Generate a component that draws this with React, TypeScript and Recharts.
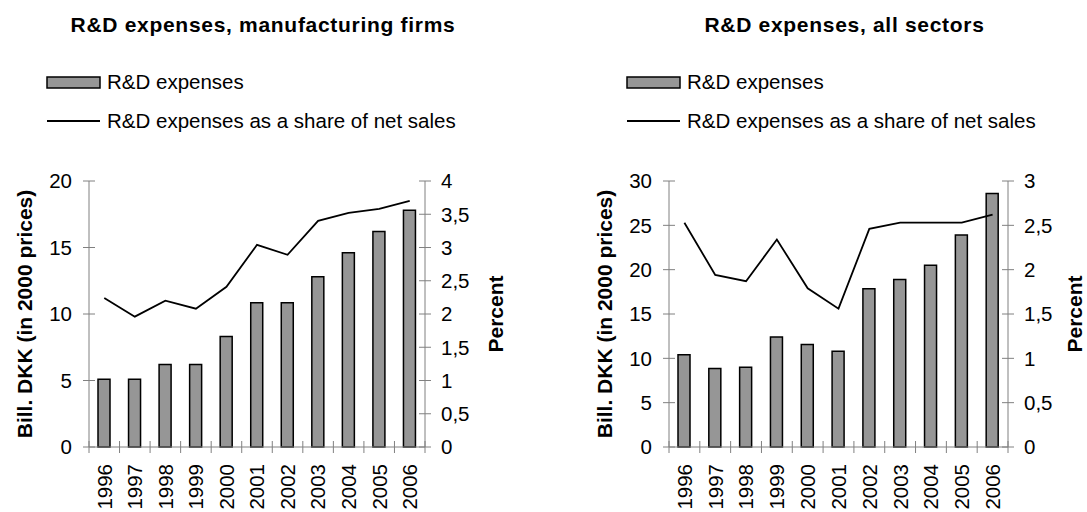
import React from 'react';
import { ComposedChart, Bar, Line, XAxis, YAxis } from 'recharts';

const years = ['1996', '1997', '1998', '1999', '2000', '2001', '2002', '2003', '2004', '2005', '2006'];

// manufacturing firms
const mfgExpenses = [5.1, 5.1, 6.2, 6.2, 8.3, 10.85, 10.85, 12.8, 14.6, 16.2, 17.8];
const mfgShare = [2.24, 1.96, 2.2, 2.08, 2.41, 3.04, 2.89, 3.4, 3.52, 3.58, 3.7];
const mfgLeftTicks = [0, 5, 10, 15, 20];
const mfgRightTicks = [0, 0.5, 1, 1.5, 2, 2.5, 3, 3.5, 4];

// all sectors
const allExpenses = [10.4, 8.85, 9.0, 12.4, 11.55, 10.8, 17.85, 18.9, 20.5, 23.9, 28.6];
const allShare = [2.53, 1.94, 1.87, 2.34, 1.79, 1.56, 2.46, 2.53, 2.53, 2.53, 2.62];
const allLeftTicks = [0, 5, 10, 15, 20, 25, 30];
const allRightTicks = [0, 0.5, 1, 1.5, 2, 2.5, 3];

const titles = ['R&D expenses, manufacturing firms', 'R&D expenses, all sectors'];
const legendBar = 'R&D expenses';
const legendLine = 'R&D expenses as a share of net sales';
const leftLabel = 'Bill. DKK (in 2000 prices)';
const rightLabel = 'Percent';

const FONT = '"Liberation Sans", Arial, sans-serif';
const AXIS = '#808080';
const BAR = '#969696';
const H = 512;
const TOP = 181;
const XH = 65;

const fmt = (v: number) => String(v).replace('.', ',');

interface PanelProps {
  left: number;
  width: number;
  leftW: number;
  rightW: number;
  pctOffset: number;
  expenses: number[];
  share: number[];
  leftTicks: number[];
  rightTicks: number[];
}

const Panel: React.FC<PanelProps> = ({ left, width, leftW, rightW, pctOffset, expenses, share, leftTicks, rightTicks }) => {
  const data = years.map((y, i) => ({ year: y, exp: expenses[i], share: share[i] }));
  const plotW = width - leftW - rightW;
  const step = plotW / years.length;

  const xTick = (p: any) => {
    const { x, y, index } = p;
    const ay = y - 17;
    return (
      <g>
        <line x1={x - step / 2} x2={x - step / 2} y1={ay - 6} y2={ay + 6} stroke={AXIS} strokeWidth={1} />
        {index === years.length - 1 && (
          <line x1={x + step / 2} x2={x + step / 2} y1={ay - 6} y2={ay + 6} stroke={AXIS} strokeWidth={1} />
        )}
        <text x={x} y={y} transform={`rotate(-90, ${x}, ${y})`} textAnchor="end" dy="0.36em"
          fontSize={20.5} fontFamily={FONT} fill="#000">{p.payload.value}</text>
      </g>
    );
  };

  const lTick = (p: any) => {
    const { x, y } = p;
    const ax = x + 17;
    return (
      <g>
        <line x1={ax - 6} x2={ax + 6} y1={y} y2={y} stroke={AXIS} strokeWidth={1} />
        <text x={x} y={y} textAnchor="end" dy="0.36em" fontSize={20.5} fontFamily={FONT} fill="#000">{fmt(p.payload.value)}</text>
      </g>
    );
  };

  const rTick = (p: any) => {
    const { x, y } = p;
    const ax = x - 16;
    return (
      <g>
        <line x1={ax - 6} x2={ax + 6} y1={y} y2={y} stroke={AXIS} strokeWidth={1} />
        <text x={x} y={y} textAnchor="start" dy="0.36em" fontSize={20.5} fontFamily={FONT} fill="#000">{fmt(p.payload.value)}</text>
      </g>
    );
  };

  const cy = TOP + (H - TOP - XH) / 2;
  const px = width - rightW + pctOffset;

  return (
    <div style={{ position: 'absolute', left, top: 0 }}>
      <ComposedChart width={width} height={H} data={data} margin={{ top: TOP, right: 0, bottom: 0, left: 0 }}>
        <XAxis dataKey="year" xAxisId="x" height={XH} interval={0} tickLine={false} tickSize={6} tickMargin={11}
          axisLine={{ stroke: AXIS }} tick={xTick} />
        <YAxis yAxisId="l" orientation="left" width={leftW} domain={[0, leftTicks[leftTicks.length - 1]]} ticks={leftTicks}
          tickLine={false} tickSize={6} tickMargin={11} axisLine={{ stroke: AXIS }} tick={lTick}
          label={() => (
            <text x={leftW - 65} y={cy} transform={`rotate(-90, ${leftW - 65}, ${cy})`} textAnchor="middle" dy="0.36em"
              fontSize={21} fontWeight="bold" fontFamily={FONT} fill="#000">{leftLabel}</text>
          )} />
        <YAxis yAxisId="r" orientation="right" width={rightW} domain={[0, rightTicks[rightTicks.length - 1]]} ticks={rightTicks}
          tickLine={false} tickSize={6} tickMargin={10} axisLine={{ stroke: AXIS }} tick={rTick}
          label={() => (
            <text x={px} y={cy} transform={`rotate(-90, ${px}, ${cy})`} textAnchor="middle" dy="0.36em"
              fontSize={21} fontWeight="bold" fontFamily={FONT} fill="#000">{rightLabel}</text>
          )} />
        <Bar dataKey="exp" xAxisId="x" yAxisId="l" barSize={12} fill={BAR} stroke="#000" strokeWidth={1.5} isAnimationActive={false} />
        <Line dataKey="share" xAxisId="x" yAxisId="r" type="linear" stroke="#000" strokeWidth={1.8} dot={false} isAnimationActive={false} />
      </ComposedChart>
    </div>
  );
};

const Header: React.FC<{ plotLeft: number; plotRight: number; title: string }> = ({ plotLeft, plotRight, title }) => {
  const cx = (plotLeft + plotRight) / 2 + 6;
  const sx = plotLeft - 42;
  return (
    <g fontFamily={FONT} fill="#000">
      <text x={cx} y={32} textAnchor="middle" fontSize={21} fontWeight="bold" letterSpacing={0.7}>{title}</text>
      <rect x={sx} y={77} width={53} height={11} fill={BAR} stroke="#000" strokeWidth={1.5} />
      <text x={sx + 60} y={89} fontSize={20.5}>{legendBar}</text>
      <line x1={sx} x2={sx + 53} y1={121} y2={121} stroke="#000" strokeWidth={1.8} />
      <text x={sx + 60} y={128} fontSize={20.5}>{legendLine}</text>
    </g>
  );
};

export default function App() {
  return (
    <div style={{ position: 'absolute', left: 0, top: 0, width: 1087, height: H, background: '#fff', overflow: 'hidden' }}>
      <Panel left={0} width={540} leftW={89} rightW={115} pctOffset={70} expenses={mfgExpenses} share={mfgShare}
        leftTicks={mfgLeftTicks} rightTicks={mfgRightTicks} />
      <Panel left={540} width={547} leftW={129} rightW={79} pctOffset={66} expenses={allExpenses} share={allShare}
        leftTicks={allLeftTicks} rightTicks={allRightTicks} />
      <svg width={1087} height={H} style={{ position: 'absolute', left: 0, top: 0, pointerEvents: 'none' }}>
        <Header plotLeft={89} plotRight={425} title={titles[0]} />
        <Header plotLeft={669} plotRight={1008} title={titles[1]} />
      </svg>
    </div>
  );
}
